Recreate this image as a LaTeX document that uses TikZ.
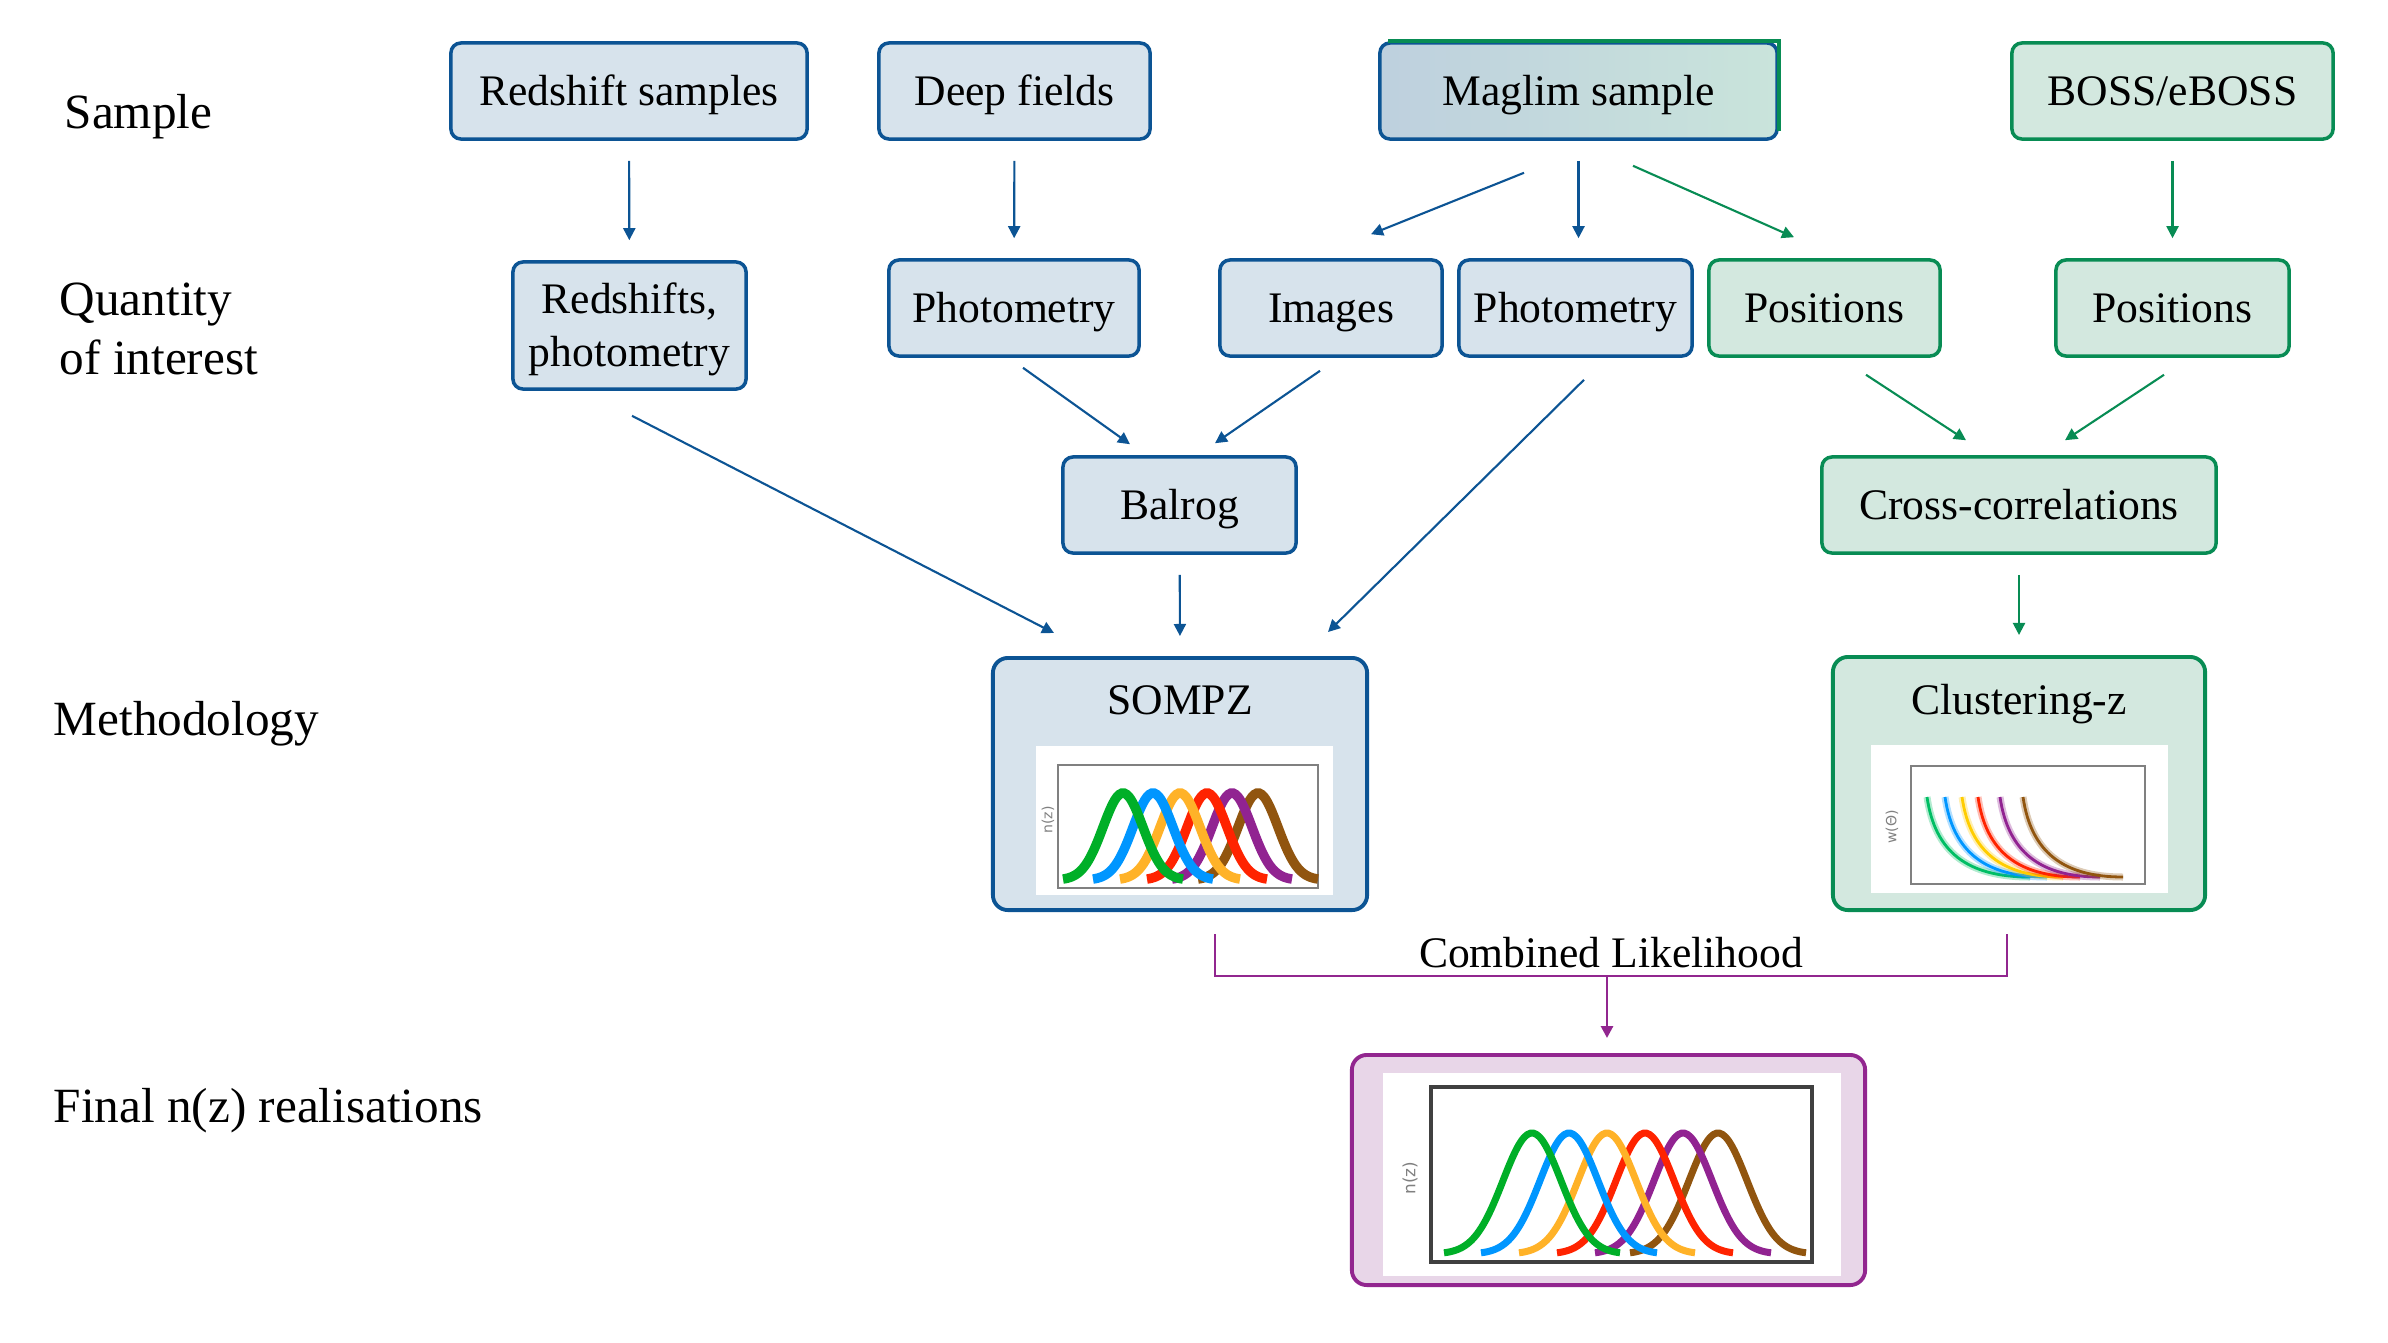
\documentclass[tikz,border=0pt]{standalone}
\usepackage{fontspec}
\setmainfont{Liberation Serif}
\newfontfamily\plotfont{DejaVu Sans}
\usetikzlibrary{positioning, calc, arrows.meta}

\definecolor{dblue}{RGB}{12,84,148}
\definecolor{lblue}{RGB}{215,227,236}
\definecolor{dgreen}{RGB}{8,140,84}
\definecolor{lgreen}{RGB}{211,232,223}
\definecolor{dpurple}{RGB}{146,38,143}
\definecolor{lpurple}{RGB}{232,214,232}
\definecolor{mlleft}{RGB}{190,208,222}
\definecolor{mlright}{RGB}{201,228,219}
\definecolor{cgreen}{RGB}{0,175,40}
\definecolor{cblue}{RGB}{0,150,255}
\definecolor{corange}{RGB}{255,178,40}
\definecolor{cred}{RGB}{255,35,0}
\definecolor{cpurple}{RGB}{145,35,145}
\definecolor{cbrown}{RGB}{145,85,15}
\definecolor{cmint}{RGB}{0,190,100}
\definecolor{cgold}{RGB}{255,205,0}

\tikzset{
  boxtext/.style={font=\fontsize{12.4}{15}\selectfont, text height=8.6pt, text depth=0.2pt},
  bluebox/.style={draw=dblue, line width=1pt, fill=lblue, rounded corners=0.1cm, align=center, boxtext, inner sep=0pt},
  greenbox/.style={draw=dgreen, line width=1pt, fill=lgreen, rounded corners=0.1cm, align=center, boxtext, inner sep=0pt},
  rowlabel/.style={font=\fontsize{14}{16.8}\selectfont, anchor=west, align=left, inner sep=0pt},
  nzlabel/.style={font=\plotfont\fontsize{4}{5}\selectfont, text=gray, rotate=90, inner sep=0pt}
}
\tikzset{
  barrow/.style={->, dblue, line width=0.6pt},
  garrow/.style={->, dgreen, line width=0.6pt},
  vshort/.style={shorten <=0.2cm, shorten >=0.2cm}
}

\begin{document}
\begin{tikzpicture}[x=0.01cm, y=-0.01cm, >={Triangle[length=1.2mm, width=1.2mm]}]
      \useasboundingbox (0,0) rectangle (2388,1342);
      % row labels
      \node[rowlabel] (lsample) at (64,117) {Sample};
      \node[rowlabel] (lquant) at (59,329) {Quantity\\of interest};
      \node[rowlabel] (lmeth) at (53,724) {Methodology};
      \node[rowlabel] (lfinal) at (53,1111) {Final n(z) realisations};

      % samples
      \node[bluebox, minimum width=3.56cm, minimum height=0.96cm] (redsamp) at (629,91) {Redshift samples};
      \node[bluebox, minimum width=2.71cm, minimum height=0.96cm] (deep) at (1014.5,91) {Deep fields};
      \node[bluebox, left color=mlleft, right color=mlright, minimum width=3.97cm, minimum height=0.96cm] (maglim) at (1578.5,91) {Maglim sample};
      \draw[dgreen, line width=1pt] ([xshift=0.1cm]maglim.north west) -- (maglim.north east) -- ([yshift=0.1cm]maglim.south east);
      \node[greenbox, minimum width=3.21cm, minimum height=0.96cm] (boss) at (2172.5,91) {BOSS/eBOSS};

      % quantities of interest
      \node[bluebox, text height=26pt, text depth={}, minimum width=2.33cm, minimum height=1.27cm] (redphot) at (629.5,325.5) {Redshifts,\\photometry};
      \node[bluebox, minimum width=2.5cm, minimum height=0.96cm] (phot1) at (1014,308) {Photometry};
      \node[bluebox, minimum width=2.22cm, minimum height=0.96cm] (images) at (1331,308) {Images};
      \node[bluebox, minimum width=2.33cm, minimum height=0.96cm] (phot2) at (1575.5,308) {Photometry};
      \node[greenbox, minimum width=2.31cm, minimum height=0.96cm] (pos1) at (1824.5,308) {Positions};
      \node[greenbox, minimum width=2.33cm, minimum height=0.96cm] (pos2) at (2172.5,308) {Positions};

      \node[bluebox, minimum width=2.33cm, minimum height=0.96cm] (balrog) at (1179.5,505) {Balrog};
      \node[greenbox, minimum width=3.94cm, minimum height=0.96cm] (cross) at (2019,505) {Cross-correlations};

      % methodology
      \node[bluebox, line width=1.1pt, rounded corners=0.15cm, minimum width=3.74cm, minimum height=2.52cm] (sompz) at (1180,784) {};
      \node[boxtext] (sompzt) at (1180,700) {SOMPZ};
      \node[greenbox, line width=1.1pt, rounded corners=0.15cm, minimum width=3.72cm, minimum height=2.53cm] (clust) at (2019,783.5) {};
      \node[boxtext] (clustt) at (2019,700) {Clustering-z};

      % SOMPZ n(z) panel
      \fill[white] (1036,746) rectangle (1333,895);
      \draw[gray, line width=0.4pt] (1058,765) rectangle (1318,888);
      \node[nzlabel] (sompzy) at (1048,820) {n(z)};
      \foreach \c/\m in {cbrown/1258, cpurple/1232, cred/1207, corange/1180, cblue/1153, cgreen/1123}
        \draw[\c, line width=0.095cm] plot[domain=\m-60:\m+60, samples=50, smooth] (\x, {880-87*exp(-((\x-\m)/20)^2/2)});

      % clustering w(theta) panel
      \fill[white] (1871,745) rectangle (2168,893);
      \draw[gray, line width=0.4pt] (1911,766) rectangle (2145,884);
      \node[nzlabel] (clusty) at (1892,827) {w(Θ)};
      \foreach \c/\a/\b in {cmint/1927/2030, cblue/1945/2047, cgold/1962/2063, cred/1978/2080, cpurple/2000/2100, cbrown/2023/2123} {
        \draw[\c, line width=0.07cm, opacity=0.3] (\a,797) .. controls (\a+8,852) and (\a+40,877) .. (\b,877);
        \draw[\c, line width=0.8pt] (\a,797) .. controls (\a+8,852) and (\a+40,877) .. (\b,877);
      }

      % combined likelihood
      \coordinate (cll) at (1215,934);
      \coordinate (clr) at (2007,934);
      \coordinate (clmid) at (1607,976);
      \draw[dpurple, line width=0.8pt] (cll) |- ($(clr)+(0,42)$) -- (clr);
      \node[boxtext] (comblik) at (1611,953) {Combined Likelihood};

      % final n(z)
      \node[draw=dpurple, line width=1.1pt, fill=lpurple, rounded corners=0.15cm, minimum width=5.13cm, minimum height=2.3cm] (final) at (1608.5,1170) {};
      \fill[white] (1383,1073) rectangle (1841,1276);
      \draw[black!75, line width=0.9pt] (1431,1087) rectangle (1812,1262);
      \node[nzlabel, font=\plotfont\fontsize{4.8}{6}\selectfont] (finaly) at (1410,1178) {n(z)};
      \foreach \c/\m in {cbrown/1718, cpurple/1683, cred/1645, corange/1607, cblue/1569, cgreen/1532}
        \draw[\c, line width=0.07cm] plot[domain=\m-88:\m+88, samples=60, smooth] (\x, {1254-121*exp(-((\x-\m)/29)^2/2)});

      % connectors
      \draw[barrow, vshort] (redsamp) -- (redphot);
      \draw[barrow, vshort] (deep) -- (phot1);
      \draw[barrow] ($(maglim.south)+(-54.5,32)$) -- ($(images.north)+(40,-24)$);
      \draw[barrow, vshort] (maglim.south) -- (maglim.south |- phot2.north);
      \draw[garrow] ($(maglim.south)+(54.5,25)$) -- ($(pos1.north)+(-30.5,-21)$);
      \draw[garrow, vshort] (boss) -- (pos2);
      \draw[barrow] ($(phot1.south)+(9,10)$) -- ($(balrog.north)+(-49.5,-11)$);
      \draw[barrow] ($(images.south)+(-11,13)$) -- ($(balrog.north)+(35.5,-12)$);
      \draw[garrow] ($(pos1.south)+(41.5,17)$) -- ($(cross.north)+(-53,-15)$);
      \draw[garrow] ($(pos2.south)+(-8.5,17)$) -- ($(cross.north)+(46,-15)$);
      \draw[barrow] ($(redphot.south)+(2.5,25)$) -- ($(sompz.north)+(-126,-23)$);
      \draw[barrow, vshort] (balrog) -- (sompz.north);
      \draw[barrow] ($(phot2.south)+(8.5,22)$) -- ($(sompz.north)+(148,-24)$);
      \draw[garrow, vshort] (cross) -- (clust.north);
      \draw[->, dpurple, line width=0.8pt, shorten >=0.15cm] (clmid) -- (clmid |- final.north);
    \end{tikzpicture}
\end{document}
